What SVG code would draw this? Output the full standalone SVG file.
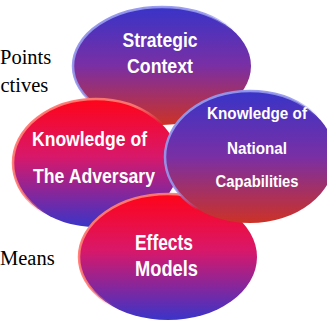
<svg xmlns="http://www.w3.org/2000/svg" width="327" height="320" viewBox="0 0 327 320">
<defs>
<linearGradient id="gBlueRed" x1="0" y1="0" x2="0" y2="1">
<stop offset="0" stop-color="#3834c8"/>
<stop offset="0.5" stop-color="#7a2fa4"/>
<stop offset="1" stop-color="#cc3226"/>
</linearGradient>
<linearGradient id="gRedBlue" x1="0" y1="0" x2="0" y2="1">
<stop offset="0" stop-color="#ff0418"/>
<stop offset="0.45" stop-color="#d8186a"/>
<stop offset="1" stop-color="#3a34c8"/>
</linearGradient>
<linearGradient id="rimBlue" x1="0" y1="0" x2="1" y2="1">
<stop offset="0" stop-color="#9496ec" stop-opacity="1"/>
<stop offset="0.4" stop-color="#9496ec" stop-opacity="0.9"/>
<stop offset="0.55" stop-color="#9496ec" stop-opacity="0"/>
</linearGradient>
<linearGradient id="rimRed" x1="0" y1="0" x2="1" y2="1">
<stop offset="0" stop-color="#ff7a72" stop-opacity="1"/>
<stop offset="0.4" stop-color="#ff7a72" stop-opacity="0.9"/>
<stop offset="0.55" stop-color="#ff7a72" stop-opacity="0"/>
</linearGradient>
</defs>
<style>
.side{font-family:"Liberation Serif","Times New Roman",serif;font-size:20.5px;fill:#000}
.lbl{font-family:"Liberation Sans",Arial,sans-serif;font-weight:bold;fill:#fff}
.br{fill:url(#gBlueRed);stroke:url(#rimBlue);stroke-width:2.5}
.rb{fill:url(#gRedBlue);stroke:url(#rimRed);stroke-width:2.5}
</style>
<g id="side-texts">
<text class="side" x="0" y="64">Points</text>
<text class="side" x="0.5" y="92">ctives</text>
<text class="side" x="0" y="265">Means</text>
</g>
<g id="strategic-context">
<ellipse class="br" cx="162" cy="66" rx="89" ry="59"/>
<text class="lbl" font-size="21" x="160" y="47" text-anchor="middle" textLength="75" lengthAdjust="spacingAndGlyphs">Strategic</text>
<text class="lbl" font-size="21" x="160" y="73" text-anchor="middle" textLength="66" lengthAdjust="spacingAndGlyphs">Context</text>
</g>
<g id="knowledge-adversary">
<ellipse class="rb" cx="96" cy="163" rx="83" ry="64"/>
<text class="lbl" font-size="20.5" x="32" y="146" textLength="115" lengthAdjust="spacingAndGlyphs">Knowledge of</text>
<text class="lbl" font-size="20.5" x="33" y="183" textLength="122" lengthAdjust="spacingAndGlyphs">The Adversary</text>
</g>
<g id="effects-models">
<ellipse class="rb" cx="168" cy="257" rx="89" ry="63"/>
<text class="lbl" font-size="22" x="135" y="250" textLength="58" lengthAdjust="spacingAndGlyphs">Effects</text>
<text class="lbl" font-size="22" x="135" y="276" textLength="63" lengthAdjust="spacingAndGlyphs">Models</text>
</g>
<g id="knowledge-national">
<ellipse class="br" cx="250" cy="157" rx="85" ry="66"/>
<text class="lbl" font-size="16.5" x="257" y="119" text-anchor="middle" textLength="100" lengthAdjust="spacingAndGlyphs">Knowledge of</text>
<text class="lbl" font-size="16.5" x="257" y="154" text-anchor="middle" textLength="60" lengthAdjust="spacingAndGlyphs">National</text>
<text class="lbl" font-size="16.5" x="257" y="187" text-anchor="middle" textLength="83" lengthAdjust="spacingAndGlyphs">Capabilities</text>
</g>
</svg>
